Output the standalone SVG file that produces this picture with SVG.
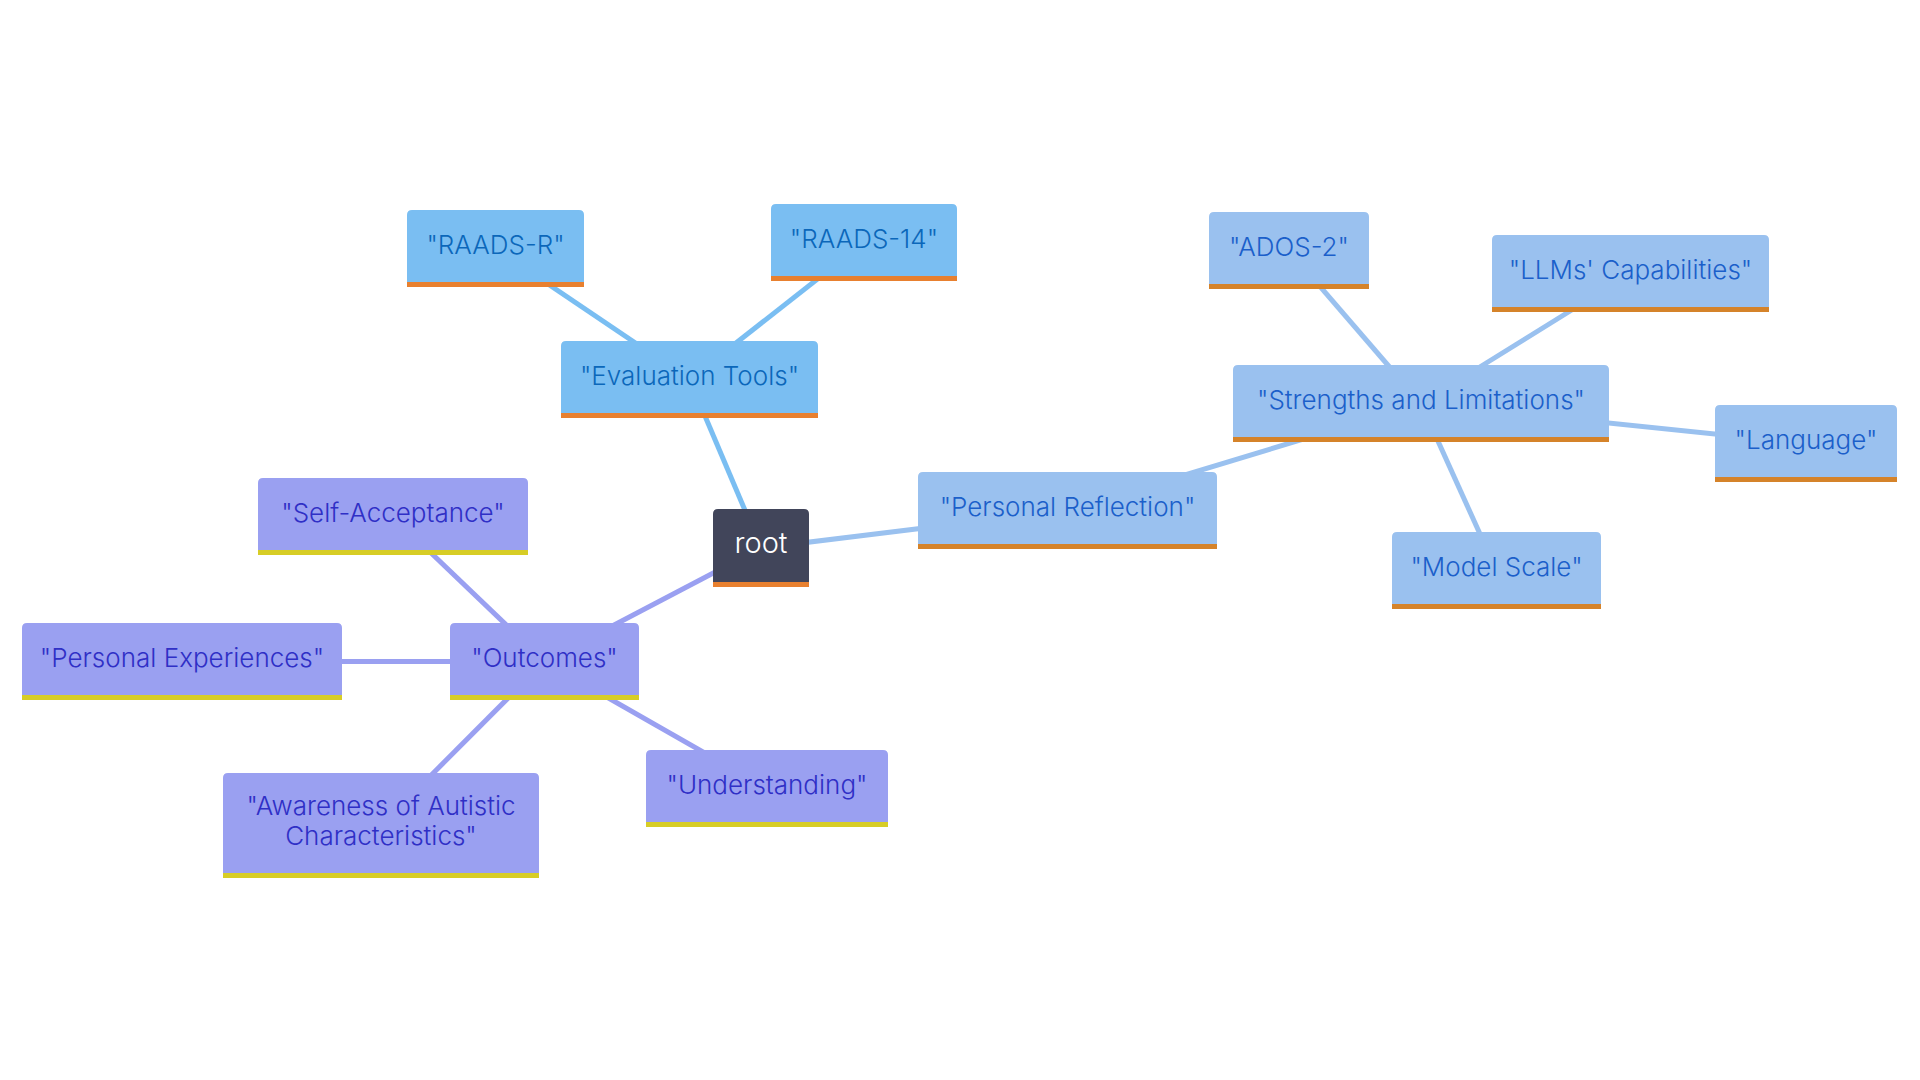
<svg xmlns="http://www.w3.org/2000/svg" width="1920" height="1080" viewBox="0 0 1920 1080">
<style>
text{font-family:Inter,"Liberation Sans",sans-serif;font-size:26px;font-weight:300;text-anchor:middle}
.eval .body{fill:#7abef2}.eval .bar{fill:#e8802f}.eval text{fill:#0b67ba}
.refl .body{fill:#9ac1ef}.refl .bar{fill:#d5832a}.refl text{fill:#1b5fca}
.outc .body{fill:#9aa0f1}.outc .bar{fill:#d7cd26}.outc text{fill:#2f2fc6}
.rootn .body{fill:#41455a}.rootn .bar{fill:#e8802f}.rootn text{fill:#ffffff;font-size:29px}
#edges line{stroke-width:5;fill:none}
.e-eval{stroke:#7abef2}.e-refl{stroke:#9ac1ef}.e-outc{stroke:#9aa0f1}
</style>
<rect width="1920" height="1080" fill="#ffffff"/>
<g id="edges">
<line class="e-eval" x1="761" y1="548" x2="689.5" y2="379.5"/>
<line class="e-eval" x1="689.5" y1="379.5" x2="495.5" y2="248.5"/>
<line class="e-eval" x1="689.5" y1="379.5" x2="864" y2="242.5"/>
<line class="e-refl" x1="761" y1="548" x2="1067.5" y2="510.5"/>
<line class="e-refl" x1="1067.5" y1="510.5" x2="1421" y2="403.5"/>
<line class="e-refl" x1="1421" y1="403.5" x2="1289" y2="250.5"/>
<line class="e-refl" x1="1421" y1="403.5" x2="1630.5" y2="273.5"/>
<line class="e-refl" x1="1421" y1="403.5" x2="1806" y2="443.5"/>
<line class="e-refl" x1="1421" y1="403.5" x2="1496.5" y2="570.5"/>
<line class="e-outc" x1="761" y1="548" x2="544.5" y2="661.5"/>
<line class="e-outc" x1="544.5" y1="661.5" x2="393" y2="516.5"/>
<line class="e-outc" x1="544.5" y1="661.5" x2="182" y2="661.5"/>
<line class="e-outc" x1="544.5" y1="661.5" x2="381" y2="825.5"/>
<line class="e-outc" x1="544.5" y1="661.5" x2="767" y2="788.5"/>
</g>
<g id="node-root" class="rootn">
<path class="body" d="M713 582V514Q713 509 718 509H804Q809 509 809 514V582Z"/>
<rect class="bar" x="713" y="582" width="96" height="5"/>
<text x="761" y="553">root</text>
</g>
<g id="node-evaluation-tools" class="eval">
<path class="body" d="M561 413V346Q561 341 566 341H813Q818 341 818 346V413Z"/>
<rect class="bar" x="561" y="413" width="257" height="5"/>
<text x="689.5" y="385">"Evaluation Tools"</text>
</g>
<g id="node-raads-r" class="eval">
<path class="body" d="M407 282V215Q407 210 412 210H579Q584 210 584 215V282Z"/>
<rect class="bar" x="407" y="282" width="177" height="5"/>
<text x="495.5" y="254">"RAADS-R"</text>
</g>
<g id="node-raads-14" class="eval">
<path class="body" d="M771 276V209Q771 204 776 204H952Q957 204 957 209V276Z"/>
<rect class="bar" x="771" y="276" width="186" height="5"/>
<text x="864" y="248">"RAADS-14"</text>
</g>
<g id="node-personal-reflection" class="refl">
<path class="body" d="M918 544V477Q918 472 923 472H1212Q1217 472 1217 477V544Z"/>
<rect class="bar" x="918" y="544" width="299" height="5"/>
<text x="1067.5" y="516">"Personal Reflection"</text>
</g>
<g id="node-strengths" class="refl">
<path class="body" d="M1233 437V370Q1233 365 1238 365H1604Q1609 365 1609 370V437Z"/>
<rect class="bar" x="1233" y="437" width="376" height="5"/>
<text x="1421" y="409">"Strengths and Limitations"</text>
</g>
<g id="node-ados-2" class="refl">
<path class="body" d="M1209 284V217Q1209 212 1214 212H1364Q1369 212 1369 217V284Z"/>
<rect class="bar" x="1209" y="284" width="160" height="5"/>
<text x="1289" y="256">"ADOS-2"</text>
</g>
<g id="node-llms" class="refl">
<path class="body" d="M1492 307V240Q1492 235 1497 235H1764Q1769 235 1769 240V307Z"/>
<rect class="bar" x="1492" y="307" width="277" height="5"/>
<text x="1630.5" y="279">"LLMs' Capabilities"</text>
</g>
<g id="node-language" class="refl">
<path class="body" d="M1715 477V410Q1715 405 1720 405H1892Q1897 405 1897 410V477Z"/>
<rect class="bar" x="1715" y="477" width="182" height="5"/>
<text x="1806" y="449">"Language"</text>
</g>
<g id="node-model-scale" class="refl">
<path class="body" d="M1392 604V537Q1392 532 1397 532H1596Q1601 532 1601 537V604Z"/>
<rect class="bar" x="1392" y="604" width="209" height="5"/>
<text x="1496.5" y="576">"Model Scale"</text>
</g>
<g id="node-outcomes" class="outc">
<path class="body" d="M450 695V628Q450 623 455 623H634Q639 623 639 628V695Z"/>
<rect class="bar" x="450" y="695" width="189" height="5"/>
<text x="544.5" y="667">"Outcomes"</text>
</g>
<g id="node-self-acceptance" class="outc">
<path class="body" d="M258 550V483Q258 478 263 478H523Q528 478 528 483V550Z"/>
<rect class="bar" x="258" y="550" width="270" height="5"/>
<text x="393" y="522">"Self-Acceptance"</text>
</g>
<g id="node-personal-experiences" class="outc">
<path class="body" d="M22 695V628Q22 623 27 623H337Q342 623 342 628V695Z"/>
<rect class="bar" x="22" y="695" width="320" height="5"/>
<text x="182" y="667">"Personal Experiences"</text>
</g>
<g id="node-understanding" class="outc">
<path class="body" d="M646 822V755Q646 750 651 750H883Q888 750 888 755V822Z"/>
<rect class="bar" x="646" y="822" width="242" height="5"/>
<text x="767" y="794">"Understanding"</text>
</g>
<g id="node-awareness" class="outc">
<path class="body" d="M223 873V778Q223 773 228 773H534Q539 773 539 778V873Z"/>
<rect class="bar" x="223" y="873" width="316" height="5"/>
<text x="381" y="815">"Awareness of Autistic</text>
<text x="381" y="845">Characteristics"</text>
</g>
</svg>
